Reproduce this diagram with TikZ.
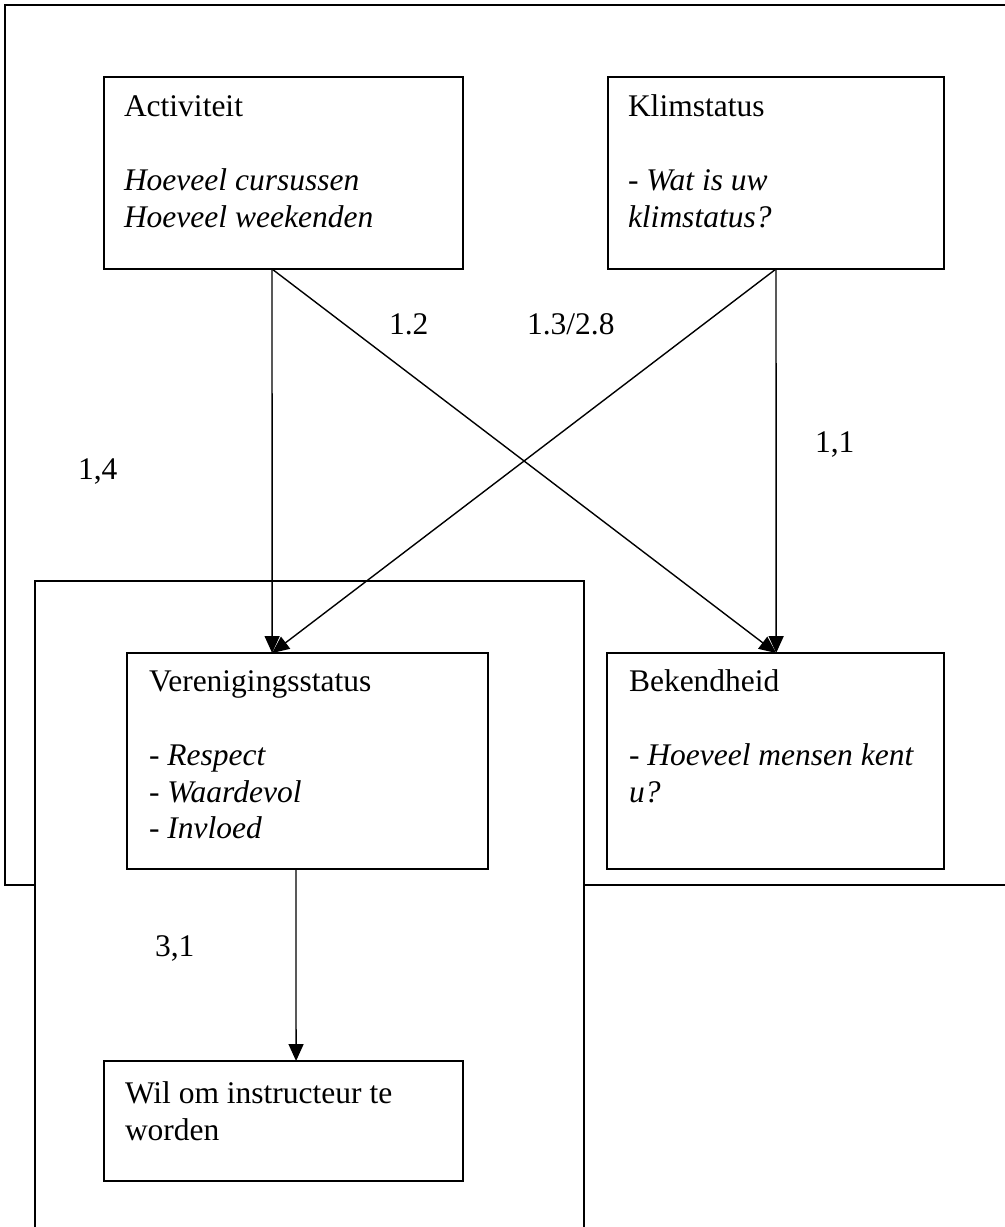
\documentclass[tikz,border=0pt]{standalone}
\usepackage{fontspec}
\setmainfont{Liberation Serif}
\usetikzlibrary{arrows.meta,calc}
\begin{document}
\begin{tikzpicture}[x=0.5pt,y=-0.5pt,
  every node/.style={font=\fontsize{15.75}{18.4}\selectfont, inner sep=0pt, outer sep=0pt},
  box/.style={draw, line width=0.9pt, fill=white, anchor=north west},
  txt/.style={anchor=north west, align=left},
  lbl/.style={anchor=base west},
  frame/.style={line width=1pt},
  conn/.style={line width=0.7pt, -{Triangle[length=8.5pt,width=7.5pt]}}]
\useasboundingbox (0,0) rectangle (1005,1227);
% outer frame
\draw[frame] (1005,5) -- (5,5) -- (5,885) -- (1005,885);
% lower frame
\filldraw[frame, fill=white] (35,1240) -- (35,581) -- (584,581) -- (584,1240);
% boxes
\node[box, minimum width=179.5pt, minimum height=96pt] (act) at (104,77) {};
\node[box, minimum width=168pt, minimum height=96pt] (klim) at (608,77) {};
\node[box, minimum width=180.5pt, minimum height=108pt] (ver) at (127,653) {};
\node[box, minimum width=168.5pt, minimum height=108pt] (bek) at (607,653) {};
\node[box, minimum width=179.5pt, minimum height=60pt] (wil) at (104,1061) {};
% texts
\node[txt] (actT) at (124,91) {\strut Activiteit\\ \strut\\ \textit{Hoeveel cursussen}\\ \textit{Hoeveel weekenden}};
\node[txt] (klimT) at (628,91) {\strut Klimstatus\\ \strut\\ - \textit{Wat is uw}\\ \textit{klimstatus?}};
\node[txt] (verT) at (149,666) {\strut Verenigingsstatus\\ \strut\\ - \textit{Respect}\\ - \textit{Waardevol}\\ - \textit{Invloed}};
\node[txt] (bekT) at (629,666) {\strut Bekendheid\\ \strut\\ - \textit{Hoeveel mensen kent}\\ \textit{u?}};
\node[txt] (wilT) at (125,1078) {\strut Wil om instructeur te\\ worden};
% ports
\coordinate (actS) at ($(act.south west)!0.468!(act.south east)$);
\coordinate (klimS) at ($(klim.south west)!0.5!(klim.south east)$);
\coordinate (verN) at ($(ver.north west)!0.402!(ver.north east)$);
\coordinate (bekN) at ($(bek.north west)!0.502!(bek.north east)$);
\coordinate (verS) at ($(ver.south west)!0.468!(ver.south east)$);
\coordinate (wilN) at ($(wil.north west)!0.535!(wil.north east)$);
% connectors
\draw[conn] (actS) -- (verN);
\draw[conn] (actS) -- (bekN);
\draw[conn] (klimS) -- (verN);
\draw[conn] (klimS) -- (bekN);
\draw[conn] (verS) -- (wilN);
% labels
\node[lbl] (l12) at (389,334) {1.2};
\node[lbl] (l13) at (527,334) {1.3/2.8};
\node[lbl] (l14) at (78,479) {1,4};
\node[lbl] (l11) at (815,452) {1,1};
\node[lbl] (l31) at (155,956) {3,1};
\end{tikzpicture}
\end{document}
